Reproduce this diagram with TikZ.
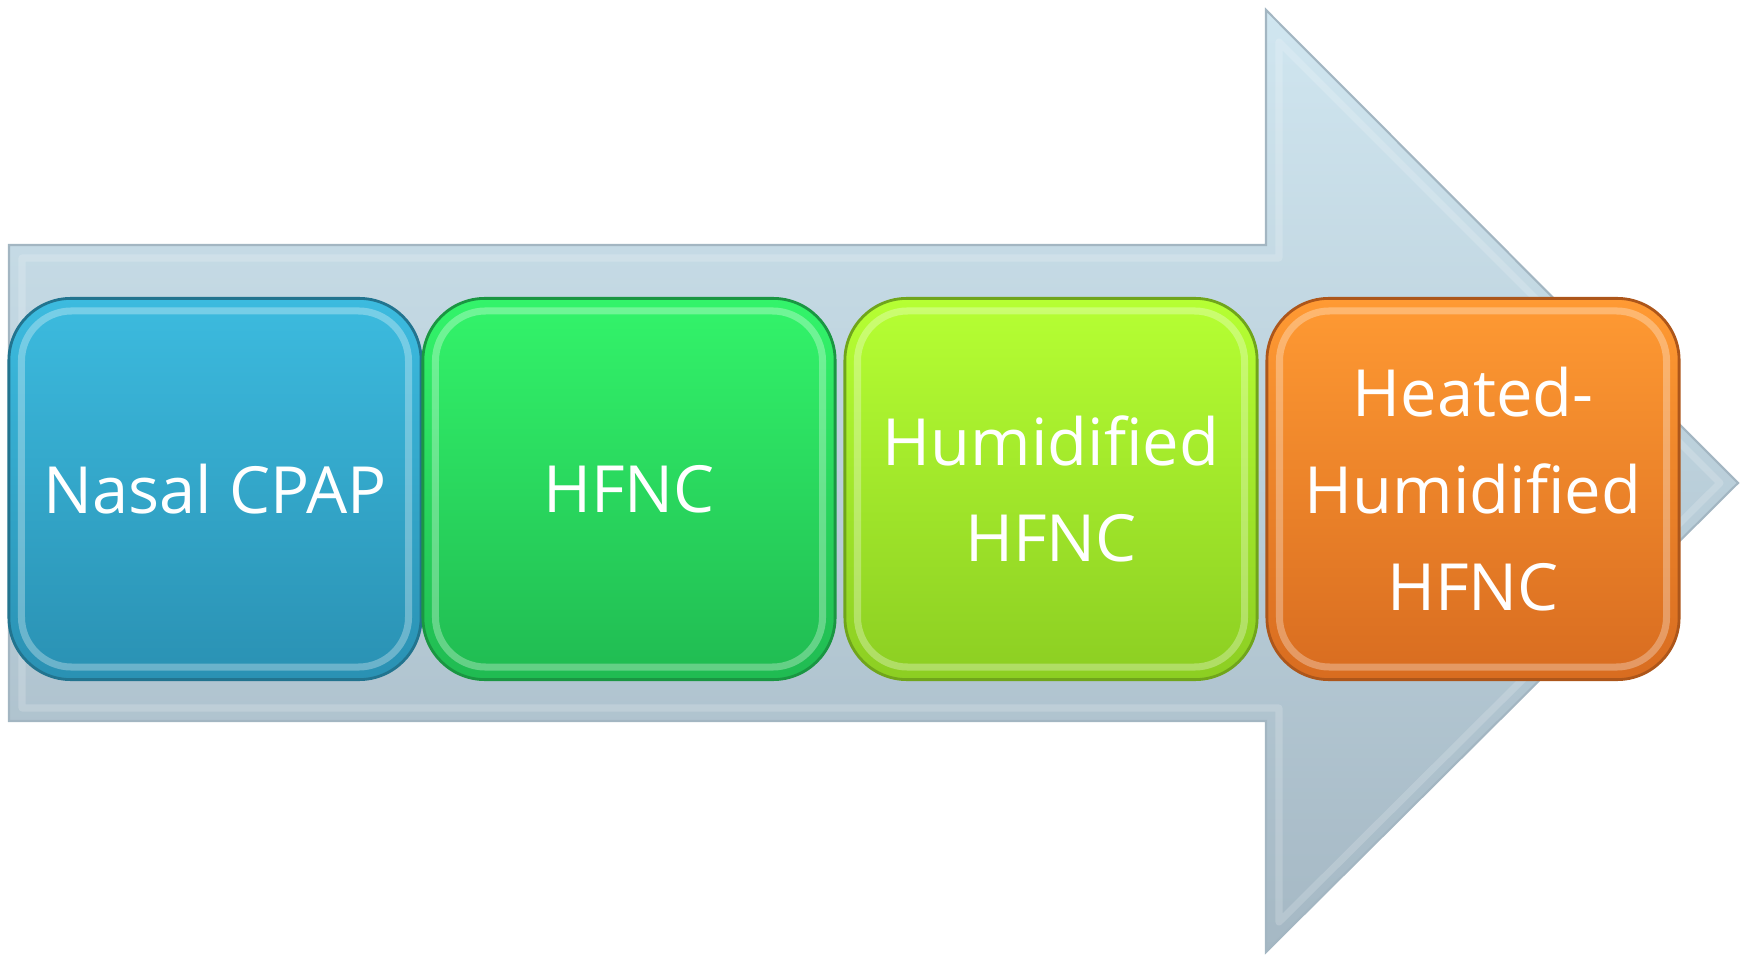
\documentclass[tikz,border=0pt]{standalone}
\usepackage{fontspec}
\setmainfont{Open Sans}
\usetikzlibrary{positioning,calc}

\definecolor{arrowtop}{HTML}{D0E6F0}
\definecolor{arrowbot}{HTML}{A5B8C4}
\definecolor{arrowedge}{HTML}{A3B6C2}
\definecolor{cpaptop}{HTML}{3CBBDF}
\definecolor{cpapbot}{HTML}{2A91B3}
\definecolor{hfnctop}{HTML}{33F46A}
\definecolor{hfncbot}{HTML}{20BB52}
\definecolor{humtop}{HTML}{B6FF33}
\definecolor{humbot}{HTML}{8CCE22}
\definecolor{heattop}{HTML}{FF9A33}
\definecolor{heatbot}{HTML}{D86C20}

\begin{document}
\begin{tikzpicture}[x=0.01cm, y=-0.01cm,
  stage/.style={rounded corners=0.62cm, line width=0.8pt, minimum width=4.12cm, minimum height=3.81cm,
    align=center, text=white, inner sep=0pt, font=\fontsize{18.5}{27.5}\selectfont},
  bevel/.style={draw=white, draw opacity=0.3, line width=2pt, rounded corners=0.5cm},
]
\useasboundingbox (0,0) rectangle (1745,955);

% big arrow behind the stages
\shade[top color=arrowtop, bottom color=arrowbot, draw=arrowedge, line width=0.6pt]
  (9,245) -- (1266,245) -- (1266,10) -- (1738,483) -- (1266,952) -- (1266,721) -- (9,721) -- cycle;
\draw[white, opacity=0.18, line width=2pt, line join=round]
  (22,258) -- (1279,258) -- (1279,42) -- (1720,483) -- (1279,922) -- (1279,708) -- (22,708) -- cycle;

% stages
\node[stage, draw=cpapbot!80!black, top color=cpaptop, bottom color=cpapbot] (cpap) at (215,489) {Nasal CPAP};
\node[stage, draw=hfncbot!80!black, top color=hfnctop, bottom color=hfncbot] (hfnc) at (629,489) {HFNC};
\node[stage, draw=humbot!80!black, top color=humtop, bottom color=humbot] (hum) at (1051,489) {Humidified\\HFNC};
\node[stage, draw=heatbot!80!black, top color=heattop, bottom color=heatbot] (heat) at (1473,489) {Heated-\\Humidified\\HFNC};

% soft inner rim on each stage
\foreach \s in {cpap,hfnc,hum,heat}
  \draw[bevel] ($(\s.north west)+(14,14)$) rectangle ($(\s.south east)+(-14,-14)$);
\end{tikzpicture}
\end{document}
